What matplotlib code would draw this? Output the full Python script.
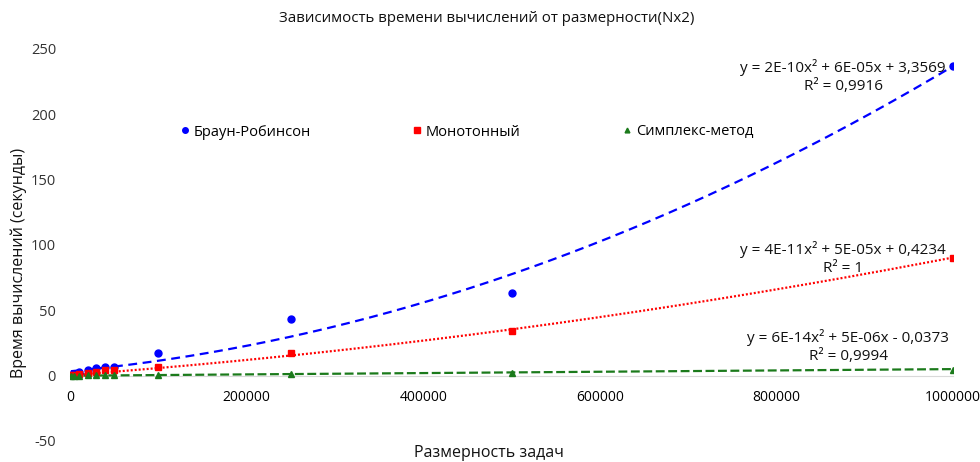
import numpy as np
import matplotlib
matplotlib.use("Agg")
import matplotlib.pyplot as plt
from matplotlib.lines import Line2D

plt.rcParams['font.family'] = ['Open Sans', 'DejaVu Sans']

# Problem sizes and measured times (seconds)
sizes = [1000, 5000, 10000, 20000, 30000, 40000, 50000, 100000, 250000, 500000, 1000000]
brown_robinson = [0.8, 1.5, 2.5, 4.0, 5.5, 7.0, 7.0, 17.5, 43.0, 63.0, 237.0]
monotonic = [0.3, 0.7, 1.2, 2.0, 3.0, 4.0, 4.5, 6.9, 17.0, 34.0, 90.0]
simplex = [0.05, 0.1, 0.1, 0.2, 0.2, 0.3, 0.3, 0.6, 1.4, 2.3, 4.5]

series_names = ["Браун-Робинсон", "Монотонный", "Симплекс-метод"]

# Polynomial (order 2) trendline coefficients [a, b, c] and R²
brown_fit = [1.70e-10, 6.35e-05, 3.3569]
mono_fit = [4.0e-11, 5.0e-05, 0.4234]
simplex_fit = [6.0e-14, 5.0e-06, -0.0373]
r2_values = [0.9916, 1.0, 0.9994]

x_ticks = [0, 200000, 400000, 600000, 800000, 1000000]
y_ticks = [-50, 0, 50, 100, 150, 200, 250]


def fmt_num(v):
    return f"{v:.4f}".rstrip('0').rstrip('.').replace('.', ',')


def equation(coef):
    a, b, c = coef
    sign = '-' if c < 0 else '+'
    return (f"y = {a:.0E}x² + {b:.0E}x {sign} {fmt_num(abs(c))}")


TXT = '#111111'
fig = plt.figure(figsize=(9.8, 4.62), dpi=100)
ax = fig.add_axes([70 / 980, 1 - 441 / 462, (953 - 70) / 980, (441 - 49) / 462])

styles = [
    dict(color='#0000FF', marker='o', ms=5.0, ls=(0, (4, 2.5)), lw=1.6),
    dict(color='#FF0000', marker='s', ms=5.0, ls=(0, (0.9, 0.9)), lw=1.6),
    dict(color='#1B7A1B', marker='^', ms=4.3, ls=(0, (4, 1.6)), lw=1.6),
]
datasets = [brown_robinson, monotonic, simplex]
fits = [brown_fit, mono_fit, simplex_fit]

xs = np.array(sizes, dtype=float)
xx = np.linspace(xs.min(), xs.max(), 400)
for ys, coef, st in zip(datasets, fits, styles):
    ax.plot(xx, np.polyval(coef, xx), color=st['color'], ls=st['ls'], lw=st['lw'], zorder=2)
for ys, st in zip(datasets, styles):
    ax.plot(xs, ys, ls='none', marker=st['marker'], ms=st['ms'], color=st['color'],
            mec=st['color'], zorder=3)

ax.set_xlim(0, 1000000)
ax.set_ylim(-50, 250)
ax.set_xticks(x_ticks)
ax.set_yticks(y_ticks)
ax.set_xticklabels([str(t) for t in x_ticks],
                   family=['Liberation Sans Narrow', 'DejaVu Sans'], fontsize=10.5, color='#333333')
ax.set_yticklabels([str(t) for t in y_ticks], fontsize=10.5, color='#333333', fontweight=500)
for s in ['top', 'right', 'left']:
    ax.spines[s].set_visible(False)
ax.spines['bottom'].set_position(('data', 0))
ax.spines['bottom'].set_color('#d9d9d9')
ax.spines['bottom'].set_zorder(1)
ax.tick_params(axis='both', length=0)
ax.tick_params(axis='x', pad=10)
ax.tick_params(axis='y', pad=10)

# Title and axis titles
fig.text(487 / 980, 1 - 18 / 462, "Зависимость времени вычислений от размерности(Nx2)",
         ha='center', va='center', fontsize=10.8, color=TXT)
fig.text(489 / 980, 1 - 453 / 462, "Размерность задач", ha='center', va='center',
         fontsize=11.5, color=TXT)
fig.text(19 / 980, 1 - 263 / 462, "Время вычислений (секунды)", ha='center', va='center',
         rotation=90, fontsize=11.5, color=TXT)

# Trendline labels
label_pos = [(843, 67, 86), (843, 250, 268), (848, 338, 356)]
for coef, r2, (px, py1, py2) in zip(fits, r2_values, label_pos):
    fig.text(px / 980, 1 - py1 / 462, equation(coef), ha='center', va='center',
             fontsize=11, color=TXT, fontweight=500)
    fig.text(px / 980, 1 - py2 / 462, f"R² = {fmt_num(r2)}", ha='center', va='center',
             fontsize=11, color=TXT, fontweight=500)

# Legend
handles = [Line2D([], [], ls='none', marker=st['marker'], ms=st['ms'] * 0.8, color=st['color'])
           for st in styles]
fig.legend(handles, series_names, loc='center', bbox_to_anchor=(466 / 980, 1 - 132 / 462),
           ncol=3, frameon=False, columnspacing=6.9, handletextpad=0.2,
           handlelength=0.8, prop={'size': 10.5, 'weight': 500})

fig.savefig("out.png", dpi=100, facecolor='white')
